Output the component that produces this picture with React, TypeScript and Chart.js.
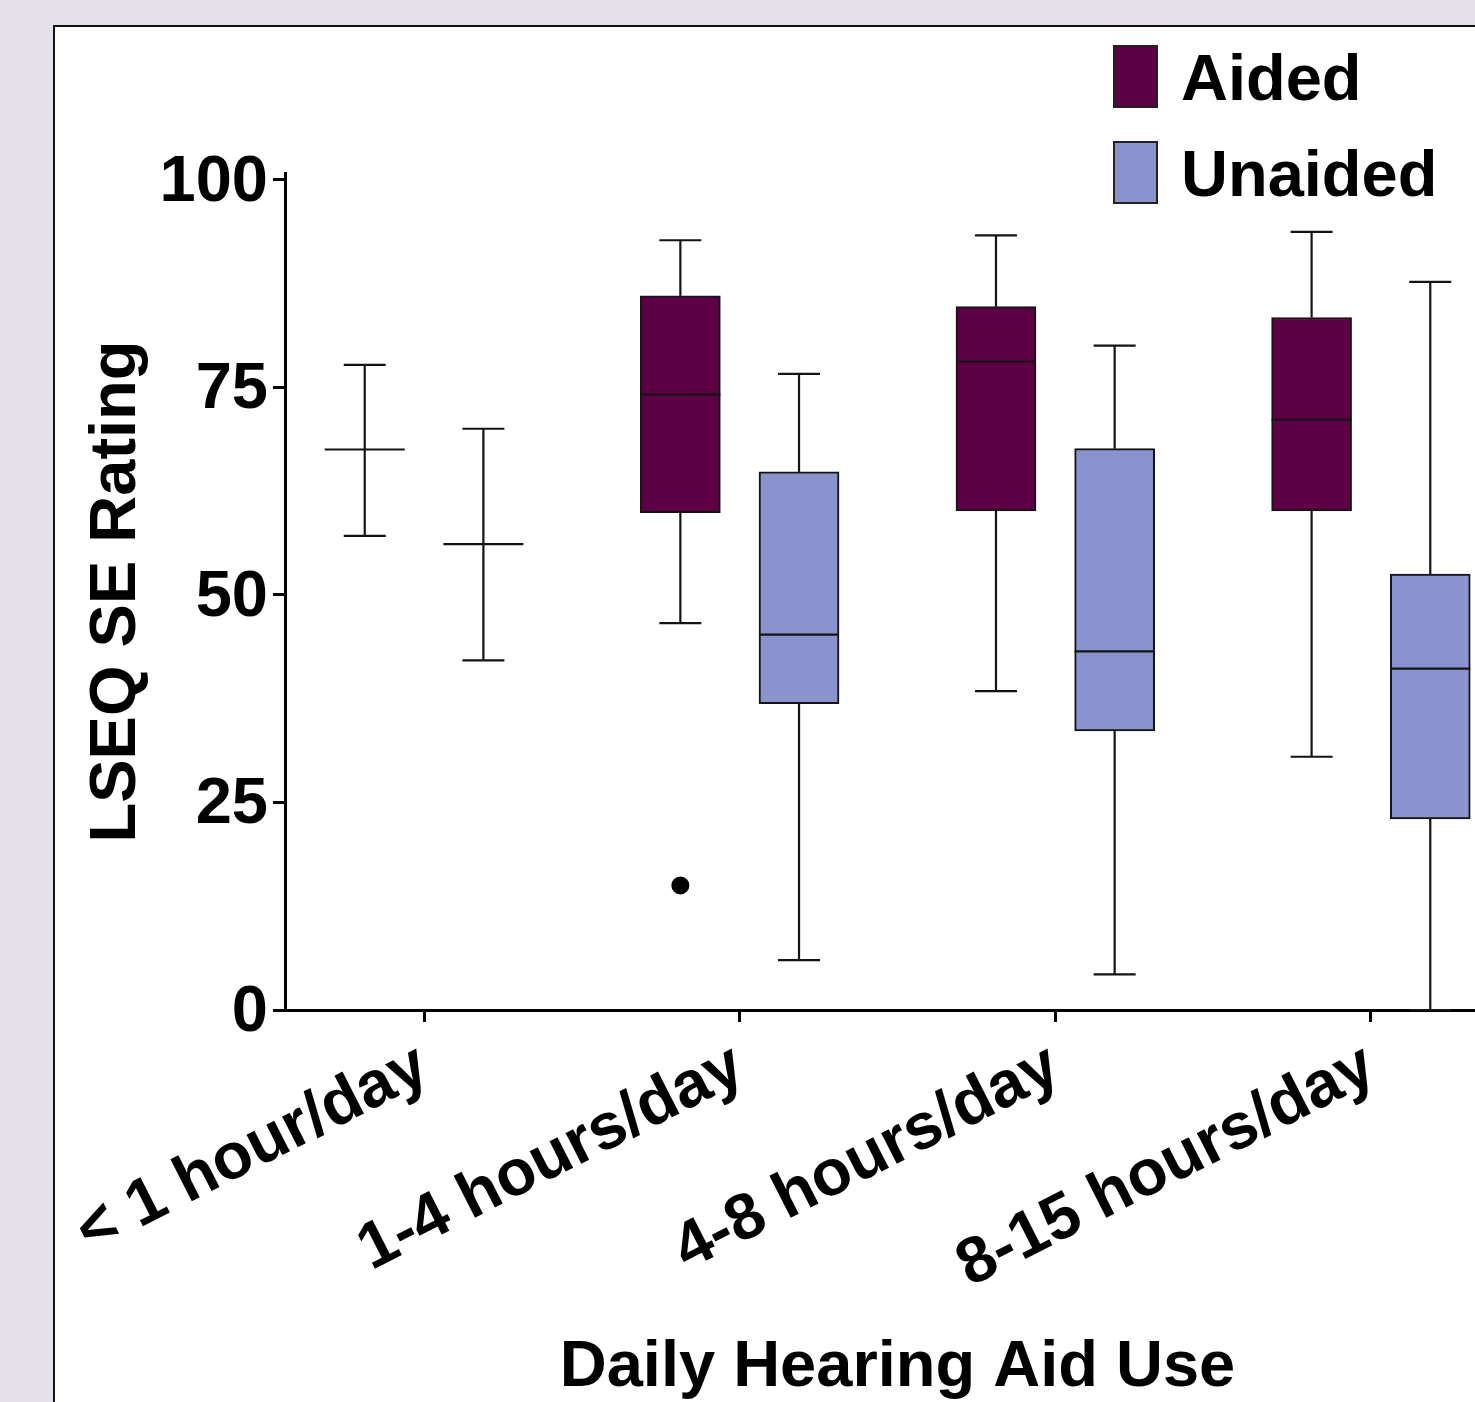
import React, { useEffect, useRef } from "react";
import { Chart, registerables } from "chart.js";

Chart.register(...registerables);

// Usage groups along the x axis
const CATEGORIES = ["< 1 hour/day", "1-4 hours/day", "4-8 hours/day", "8-15 hours/day"];
const Y_TICKS = [0, 25, 50, 75, 100];

// Aided LSEQ SE ratings (five-number summaries per group)
const AIDED_MIN = [57.1, 46.6, 38.4, 30.5];
const AIDED_Q1: (number | null)[] = [null, 59.9, 60.1, 60.1];
const AIDED_MEDIAN = [67.5, 74.1, 78.1, 71.1];
const AIDED_Q3: (number | null)[] = [null, 86.0, 84.7, 83.4];
const AIDED_MAX = [77.7, 92.7, 93.3, 93.7];
const AIDED_OUTLIERS: number[][] = [[], [15.0], [], []];

// Unaided LSEQ SE ratings
const UNAIDED_MIN = [42.1, 6.0, 4.3, 0];
const UNAIDED_Q1: (number | null)[] = [null, 36.9, 33.6, 23.0];
const UNAIDED_MEDIAN = [56.1, 45.2, 43.2, 41.1];
const UNAIDED_Q3: (number | null)[] = [null, 64.8, 67.6, 52.5];
const UNAIDED_MAX = [70.0, 76.6, 80.0, 87.7];
const UNAIDED_OUTLIERS: number[][] = [[], [], [], []];

const FONT = "'Liberation Sans', Arial, Helvetica, sans-serif";
const BOX_WIDTH = 80;
const CAP_WIDTH = 42;
const GROUP_OFFSET = 0.188;
const X_PAD = 0.4406;
const EDGE = "#141414";

const SERIES = [
  {
    label: "Aided",
    color: "#5e0046",
    offset: -GROUP_OFFSET,
    min: AIDED_MIN,
    q1: AIDED_Q1,
    median: AIDED_MEDIAN,
    q3: AIDED_Q3,
    max: AIDED_MAX,
    outliers: AIDED_OUTLIERS,
  },
  {
    label: "Unaided",
    color: "#8b93cf",
    offset: GROUP_OFFSET,
    min: UNAIDED_MIN,
    q1: UNAIDED_Q1,
    median: UNAIDED_MEDIAN,
    q3: UNAIDED_Q3,
    max: UNAIDED_MAX,
    outliers: UNAIDED_OUTLIERS,
  },
];

// Whiskers, caps and median lines, positioned through the chart scales
const whiskerPlugin = {
  id: "whiskers",
  afterDatasetsDraw(chart: any) {
    const { ctx, scales } = chart;
    const xs = scales.x;
    const ys = scales.y;
    const seg = (x1: number, y1: number, x2: number, y2: number) => {
      ctx.beginPath();
      ctx.moveTo(x1, y1);
      ctx.lineTo(x2, y2);
      ctx.stroke();
    };
    ctx.save();
    ctx.strokeStyle = EDGE;
    ctx.lineWidth = 2.2;
    SERIES.forEach((s) => {
      CATEGORIES.forEach((_, i) => {
        const cx = xs.getPixelForValue(i + s.offset);
        const hi = s.q3[i] ?? s.median[i];
        const lo = s.q1[i] ?? s.median[i];
        const yMax = ys.getPixelForValue(s.max[i]);
        const yMin = ys.getPixelForValue(s.min[i]);
        seg(cx, yMax, cx, ys.getPixelForValue(hi));
        seg(cx, ys.getPixelForValue(lo), cx, yMin);
        seg(cx - CAP_WIDTH / 2, yMax, cx + CAP_WIDTH / 2, yMax);
        seg(cx - CAP_WIDTH / 2, yMin, cx + CAP_WIDTH / 2, yMin);
        const yMed = ys.getPixelForValue(s.median[i]);
        seg(cx - BOX_WIDTH / 2, yMed, cx + BOX_WIDTH / 2, yMed);
      });
    });
    ctx.restore();
  },
};

// Stacked legend with tall swatches in the upper right
const legendPlugin = {
  id: "stackedLegend",
  afterDraw(chart: any) {
    const { ctx } = chart;
    ctx.save();
    SERIES.forEach((s, k) => {
      const top = 46 + k * 96;
      ctx.fillStyle = s.color;
      ctx.fillRect(1114, top, 43, 61);
      ctx.strokeStyle = "#222";
      ctx.lineWidth = 2;
      ctx.strokeRect(1114, top, 43, 61);
      ctx.fillStyle = "#000";
      ctx.font = `bold 65px ${FONT}`;
      ctx.textAlign = "left";
      ctx.textBaseline = "alphabetic";
      ctx.fillText(s.label, 1181, top + 54);
    });
    ctx.restore();
  },
};

export default function App() {
  const canvasRef = useRef<HTMLCanvasElement | null>(null);

  useEffect(() => {
    const canvas = canvasRef.current;
    if (!canvas) return;

    const boxDatasets = SERIES.map((s) => ({
      type: "bar" as const,
      label: s.label,
      data: CATEGORIES.map((_, i) => ({
        x: i + s.offset,
        y: s.q1[i] == null || s.q3[i] == null ? null : [s.q1[i], s.q3[i]],
      })),
      backgroundColor: s.color,
      borderColor: EDGE,
      borderWidth: 2,
      borderSkipped: false,
      barThickness: BOX_WIDTH,
      grouped: false,
    }));

    const outlierDataset = {
      type: "scatter" as const,
      label: "Outliers",
      data: SERIES.flatMap((s) =>
        s.outliers.flatMap((vals, i) => vals.map((v) => ({ x: i + s.offset, y: v })))
      ),
      pointRadius: 9,
      pointBackgroundColor: "#000",
      pointBorderWidth: 0,
    };

    const tickFont = { family: FONT, size: 65, weight: "bold" as const };
    const titleFont = { family: FONT, size: 65, weight: "bold" as const };

    const chart = new Chart(canvas, {
      type: "bar",
      data: { datasets: [...boxDatasets, outlierDataset] as any },
      options: {
        responsive: false,
        animation: false,
        layout: { padding: { left: 60, top: 173, right: 15, bottom: 0 } },
        plugins: {
          legend: { display: false },
          tooltip: { enabled: false },
        },
        scales: {
          x: {
            type: "linear",
            offset: false,
            min: -X_PAD,
            max: CATEGORIES.length - 1 + X_PAD,
            afterBuildTicks: (scale: any) => {
              scale.ticks = CATEGORIES.map((_, i) => ({ value: i }));
            },
            afterFit: (scale: any) => {
              scale.height = 400;
            },
            ticks: {
              callback: (v: any) => CATEGORIES[Number(v)] ?? "",
              minRotation: 27,
              maxRotation: 27,
              autoSkip: false,
              padding: 6,
              color: "#000",
              font: tickFont,
            },
            grid: {
              offset: false,
              drawOnChartArea: false,
              drawTicks: true,
              tickLength: 12,
              tickWidth: 3,
              tickColor: "#000",
            },
            border: { display: true, color: "#000", width: 3 },
            title: {
              display: true,
              text: "Daily Hearing Aid Use",
              color: "#000",
              font: titleFont,
              padding: { top: 0, bottom: 3 },
            },
          },
          y: {
            type: "linear",
            min: 0,
            max: 100.8,
            afterBuildTicks: (scale: any) => {
              scale.ticks = Y_TICKS.map((v) => ({ value: v }));
            },
            afterFit: (scale: any) => {
              scale.width = 225;
            },
            ticks: {
              padding: 5,
              labelOffset: 3,
              color: "#000",
              font: tickFont,
            },
            grid: {
              drawOnChartArea: false,
              drawTicks: true,
              tickLength: 12,
              tickWidth: 3,
              tickColor: "#000",
            },
            border: { display: true, color: "#000", width: 3 },
            title: {
              display: true,
              text: "LSEQ SE Rating",
              color: "#000",
              font: titleFont,
              padding: { top: 18, bottom: 0 },
            },
          },
        },
      },
      plugins: [whiskerPlugin, legendPlugin],
    });

    return () => chart.destroy();
  }, []);

  return (
    <div
      style={{
        position: "absolute",
        left: 0,
        top: 0,
        width: 1475,
        height: 1402,
        overflow: "hidden",
        background: "#e5e1e9",
      }}
    >
      <div
        style={{
          position: "absolute",
          left: 53,
          top: 25,
          width: 1700,
          height: 1700,
          background: "#fff",
          border: "2px solid #111",
          boxSizing: "border-box",
        }}
      />
      <canvas
        ref={canvasRef}
        width={1525}
        height={1410}
        style={{ position: "absolute", left: 0, top: 0, display: "block" }}
      />
    </div>
  );
}
